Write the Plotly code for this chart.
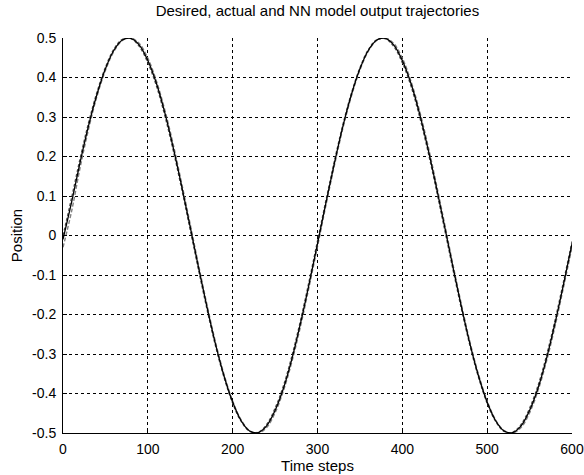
import plotly.graph_objects as go

# Time axis (sampled every 10 steps)
time_steps = list(range(0, 601, 10))

# Desired trajectory
desired = [
    -0.01, 0.083, 0.184, 0.277, 0.357, 0.422, 0.469, 0.495, 0.499, 0.482,
    0.443, 0.386, 0.311, 0.222, 0.124, 0.021, -0.083, -0.184, -0.277, -0.357,
    -0.422, -0.469, -0.495, -0.499, -0.482, -0.443, -0.386, -0.311, -0.222, -0.124,
    -0.021, 0.083, 0.184, 0.277, 0.357, 0.422, 0.469, 0.495, 0.499, 0.482,
    0.443, 0.386, 0.311, 0.222, 0.124, 0.021, -0.083, -0.184, -0.277, -0.357,
    -0.422, -0.469, -0.495, -0.499, -0.482, -0.443, -0.386, -0.311, -0.222, -0.124,
    -0.021,
]

# Actual plant output
actual = [
    -0.03, 0.060, 0.170, 0.268, 0.352, 0.418, 0.466, 0.494, 0.500, 0.486,
    0.449, 0.392, 0.318, 0.230, 0.131, 0.028, -0.077, -0.178, -0.272, -0.353,
    -0.419, -0.467, -0.494, -0.500, -0.486, -0.449, -0.392, -0.318, -0.230, -0.131,
    -0.028, 0.077, 0.178, 0.272, 0.353, 0.419, 0.467, 0.494, 0.500, 0.486,
    0.449, 0.392, 0.318, 0.230, 0.131, 0.028, -0.077, -0.178, -0.272, -0.353,
    -0.419, -0.467, -0.494, -0.500, -0.486, -0.449, -0.392, -0.318, -0.230, -0.131,
    -0.030,
]

# Neural-network model output
nn_model = [
    0.000, 0.095, 0.194, 0.285, 0.363, 0.426, 0.472, 0.497, 0.498, 0.478,
    0.437, 0.379, 0.303, 0.214, 0.116, 0.013, -0.090, -0.190, -0.282, -0.361,
    -0.425, -0.471, -0.496, -0.498, -0.478, -0.437, -0.379, -0.303, -0.214, -0.116,
    -0.013, 0.090, 0.190, 0.282, 0.361, 0.425, 0.471, 0.496, 0.498, 0.478,
    0.437, 0.379, 0.303, 0.214, 0.116, 0.013, -0.090, -0.190, -0.282, -0.361,
    -0.425, -0.471, -0.496, -0.498, -0.478, -0.437, -0.379, -0.303, -0.214, -0.116,
    -0.015,
]

x_ticks = [0, 100, 200, 300, 400, 500, 600]
y_ticks = [-0.5, -0.4, -0.3, -0.2, -0.1, 0, 0.1, 0.2, 0.3, 0.4, 0.5]
y_tick_text = ["-0.5", "-0.4", "-0.3", "-0.2", "-0.1", "0", "0.1", "0.2", "0.3", "0.4", "0.5"]

FONT = "Liberation Sans, Arial, sans-serif"

fig = go.Figure()
fig.add_trace(go.Scatter(x=time_steps, y=actual, mode="lines", line_shape="spline",
                         line=dict(color="#808080", width=1.4, dash="4px,2px"), name="Actual"))
fig.add_trace(go.Scatter(x=time_steps, y=nn_model, mode="lines", line_shape="spline",
                         line=dict(color="#505050", width=1.2, dash="3px,2px"), name="NN model"))
fig.add_trace(go.Scatter(x=time_steps, y=desired, mode="lines", line_shape="spline",
                         line=dict(color="black", width=1.3), name="Desired"))

axis_common = dict(
    showgrid=True, gridcolor="black", gridwidth=1, griddash="3px,3px",
    zeroline=False, showline=True, linecolor="black", linewidth=1,
    ticks="inside", ticklen=4, tickcolor="black", automargin=False,
    tickfont=dict(family=FONT, size=14, color="black"),
)

fig.update_layout(
    width=584, height=475,
    margin=dict(l=63, r=12, t=38, b=42),
    paper_bgcolor="white", plot_bgcolor="white",
    showlegend=False,
    font=dict(family=FONT, size=14, color="black"),
    title=dict(text="Desired, actual and NN model output trajectories",
               x=0.5435, xanchor="center", y=0.977, yanchor="middle",
               font=dict(family=FONT, size=15, color="black")),
    xaxis=dict(range=[0, 600], tickvals=x_ticks, ticklabelstandoff=3,
               title=dict(text="Time steps", standoff=1,
                          font=dict(family=FONT, size=15, color="black")),
               **axis_common),
    yaxis=dict(range=[-0.5, 0.5], tickvals=y_ticks, ticktext=y_tick_text,
               ticklabelstandoff=3,
               title=dict(text="Position", standoff=5,
                          font=dict(family=FONT, size=15, color="black")),
               **axis_common),
)

fig.write_html("out.html")
